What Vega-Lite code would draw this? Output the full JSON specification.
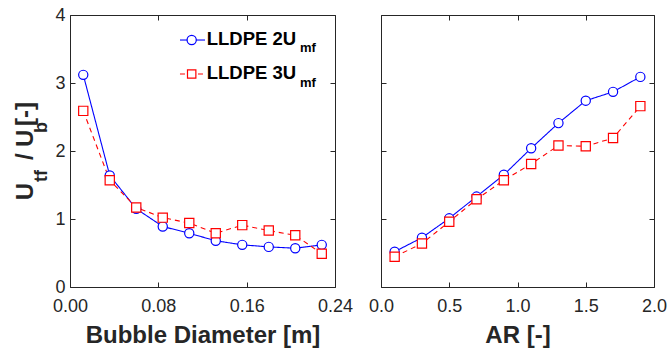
{
  "$schema": "https://vega.github.io/schema/vega-lite/v6.json",
  "padding": {"left": 13, "top": 5, "right": 5, "bottom": 0},
  "background": "white",
  "spacing": 13,
  "config": {
    "view": {"stroke": "#262626", "strokeWidth": 1},
    "axis": {
      "grid": false,
      "labelFont": "Liberation Sans",
      "labelFontSize": 18,
      "labelColor": "#262626",
      "labelFlush": false,
      "labelOverlap": false,
      "titleFont": "Liberation Sans",
      "titleFontSize": 24,
      "titleFontWeight": "bold",
      "titleColor": "#262626",
      "tickColor": "#262626",
      "domain": false
    },
    "text": {"font": "Liberation Sans", "fontWeight": "bold", "fill": "#000000"}
  },
  "datasets": {
    "diam": [
      {"x": 0.012, "y": 3.12, "series": "2Umf"},
      {"x": 0.036, "y": 1.64, "series": "2Umf"},
      {"x": 0.060, "y": 1.15, "series": "2Umf"},
      {"x": 0.084, "y": 0.89, "series": "2Umf"},
      {"x": 0.108, "y": 0.79, "series": "2Umf"},
      {"x": 0.132, "y": 0.68, "series": "2Umf"},
      {"x": 0.156, "y": 0.62, "series": "2Umf"},
      {"x": 0.180, "y": 0.59, "series": "2Umf"},
      {"x": 0.204, "y": 0.57, "series": "2Umf"},
      {"x": 0.228, "y": 0.62, "series": "2Umf"},
      {"x": 0.012, "y": 2.59, "series": "3Umf"},
      {"x": 0.036, "y": 1.57, "series": "3Umf"},
      {"x": 0.060, "y": 1.17, "series": "3Umf"},
      {"x": 0.084, "y": 1.02, "series": "3Umf"},
      {"x": 0.108, "y": 0.94, "series": "3Umf"},
      {"x": 0.132, "y": 0.79, "series": "3Umf"},
      {"x": 0.156, "y": 0.91, "series": "3Umf"},
      {"x": 0.180, "y": 0.83, "series": "3Umf"},
      {"x": 0.204, "y": 0.76, "series": "3Umf"},
      {"x": 0.228, "y": 0.49, "series": "3Umf"}
    ],
    "ar": [
      {"x": 0.1, "y": 0.52, "series": "2Umf"},
      {"x": 0.3, "y": 0.725, "series": "2Umf"},
      {"x": 0.5, "y": 1.01, "series": "2Umf"},
      {"x": 0.7, "y": 1.33, "series": "2Umf"},
      {"x": 0.9, "y": 1.65, "series": "2Umf"},
      {"x": 1.1, "y": 2.04, "series": "2Umf"},
      {"x": 1.3, "y": 2.41, "series": "2Umf"},
      {"x": 1.5, "y": 2.74, "series": "2Umf"},
      {"x": 1.7, "y": 2.87, "series": "2Umf"},
      {"x": 1.9, "y": 3.09, "series": "2Umf"},
      {"x": 0.1, "y": 0.445, "series": "3Umf"},
      {"x": 0.3, "y": 0.64, "series": "3Umf"},
      {"x": 0.5, "y": 0.96, "series": "3Umf"},
      {"x": 0.7, "y": 1.29, "series": "3Umf"},
      {"x": 0.9, "y": 1.57, "series": "3Umf"},
      {"x": 1.1, "y": 1.81, "series": "3Umf"},
      {"x": 1.3, "y": 2.08, "series": "3Umf"},
      {"x": 1.5, "y": 2.07, "series": "3Umf"},
      {"x": 1.7, "y": 2.19, "series": "3Umf"},
      {"x": 1.9, "y": 2.66, "series": "3Umf"}
    ]
  },
  "hconcat": [
    {
      "width": 265,
      "height": 272,
      "layer": [
        {
          "data": {"name": "diam"},
          "mark": {"type": "line", "strokeWidth": 1.1},
          "encoding": {
            "x": {"field": "x", "type": "quantitative", "scale": {"domain": [0, 0.24], "nice": false},
              "axis": {"orient": "bottom", "values": [0, 0.08, 0.16, 0.24], "format": ".2f", "title": "Bubble Diameter [m]", "tickSize": -5, "labelPadding": 15.5, "titlePadding": 8}},
            "y": {"field": "y", "type": "quantitative", "scale": {"domain": [0, 4], "nice": false},
              "axis": {"orient": "left", "values": [0, 1, 2, 3, 4], "format": "d", "title": null, "tickSize": -5, "labelPadding": 10}},
            "color": {"field": "series", "type": "nominal", "scale": {"domain": ["2Umf", "3Umf"], "range": ["#0000ff", "#ff0000"]}, "legend": null},
            "strokeDash": {"field": "series", "type": "nominal", "scale": {"domain": ["2Umf", "3Umf"], "range": [[1, 0], [5, 4]]}, "legend": null}
          }
        },
        {
          "data": {"name": "diam"},
          "mark": {"type": "point", "filled": false, "fill": "white", "fillOpacity": 1, "strokeWidth": 1.2, "size": 85},
          "encoding": {
            "x": {"field": "x", "type": "quantitative", "axis": {"orient": "top", "values": [0, 0.08, 0.16, 0.24], "labels": false, "title": null, "tickSize": -5}},
            "y": {"field": "y", "type": "quantitative", "axis": {"orient": "right", "values": [0, 1, 2, 3, 4], "labels": false, "title": null, "tickSize": -5}},
            "stroke": {"field": "series", "type": "nominal", "scale": {"domain": ["2Umf", "3Umf"], "range": ["#0000ff", "#ff0000"]}, "legend": null},
            "shape": {"field": "series", "type": "nominal", "scale": {"domain": ["2Umf", "3Umf"], "range": ["circle", "square"]}, "legend": null}
          }
        },
        {
          "data": {"values": [{}]},
          "mark": {"type": "rule", "stroke": "#0000ff", "strokeWidth": 1.1},
          "encoding": {"x": {"datum": 0.0996, "type": "quantitative", "axis": null}, "x2": {"datum": 0.1223}, "y": {"datum": 3.632, "type": "quantitative", "axis": null}}
        },
        {
          "data": {"values": [{}]},
          "mark": {"type": "rule", "stroke": "#ff0000", "strokeWidth": 1.1, "strokeDash": [5, 4]},
          "encoding": {"x": {"datum": 0.0996, "type": "quantitative", "axis": null}, "x2": {"datum": 0.1223}, "y": {"datum": 3.132, "type": "quantitative", "axis": null}}
        },
        {
          "data": {"values": [{}]},
          "mark": {"type": "point", "shape": "circle", "stroke": "#0000ff", "fill": "white", "fillOpacity": 1, "strokeWidth": 1.2, "size": 85},
          "encoding": {"x": {"datum": 0.1102, "type": "quantitative", "axis": null}, "y": {"datum": 3.632, "type": "quantitative", "axis": null}}
        },
        {
          "data": {"values": [{}]},
          "mark": {"type": "point", "shape": "square", "stroke": "#ff0000", "fill": "white", "fillOpacity": 1, "strokeWidth": 1.2, "size": 70},
          "encoding": {"x": {"datum": 0.1102, "type": "quantitative", "axis": null}, "y": {"datum": 3.132, "type": "quantitative", "axis": null}}
        },
        {
          "data": {"values": [{}]},
          "mark": {"type": "text", "text": "LLDPE 2U", "fontSize": 18.5, "align": "left", "baseline": "alphabetic"},
          "encoding": {"x": {"datum": 0.1238, "type": "quantitative", "axis": null}, "y": {"datum": 3.559, "type": "quantitative", "axis": null}}
        },
        {
          "data": {"values": [{}]},
          "mark": {"type": "text", "text": "mf", "fontSize": 13, "align": "left", "baseline": "alphabetic"},
          "encoding": {"x": {"datum": 0.2083, "type": "quantitative", "axis": null}, "y": {"datum": 3.456, "type": "quantitative", "axis": null}}
        },
        {
          "data": {"values": [{}]},
          "mark": {"type": "text", "text": "LLDPE 3U", "fontSize": 18.5, "align": "left", "baseline": "alphabetic"},
          "encoding": {"x": {"datum": 0.1238, "type": "quantitative", "axis": null}, "y": {"datum": 3.059, "type": "quantitative", "axis": null}}
        },
        {
          "data": {"values": [{}]},
          "mark": {"type": "text", "text": "mf", "fontSize": 13, "align": "left", "baseline": "alphabetic"},
          "encoding": {"x": {"datum": 0.2083, "type": "quantitative", "axis": null}, "y": {"datum": 2.946, "type": "quantitative", "axis": null}}
        },
        {
          "data": {"values": [{}]},
          "mark": {"type": "text", "text": "U", "fontSize": 24, "angle": 270, "align": "left", "baseline": "alphabetic", "fill": "#262626"},
          "encoding": {"x": {"datum": -0.0335, "type": "quantitative", "axis": null}, "y": {"datum": 1.275, "type": "quantitative", "axis": null}}
        },
        {
          "data": {"values": [{}]},
          "mark": {"type": "text", "text": "tf", "fontSize": 18, "angle": 270, "align": "left", "baseline": "alphabetic", "fill": "#262626"},
          "encoding": {"x": {"datum": -0.0208, "type": "quantitative", "axis": null}, "y": {"datum": 1.544, "type": "quantitative", "axis": null}}
        },
        {
          "data": {"values": [{}]},
          "mark": {"type": "text", "text": "/", "fontSize": 24, "angle": 270, "align": "left", "baseline": "alphabetic", "fill": "#262626"},
          "encoding": {"x": {"datum": -0.0335, "type": "quantitative", "axis": null}, "y": {"datum": 1.868, "type": "quantitative", "axis": null}}
        },
        {
          "data": {"values": [{}]},
          "mark": {"type": "text", "text": "U", "fontSize": 24, "angle": 270, "align": "left", "baseline": "alphabetic", "fill": "#262626"},
          "encoding": {"x": {"datum": -0.0335, "type": "quantitative", "axis": null}, "y": {"datum": 2.059, "type": "quantitative", "axis": null}}
        },
        {
          "data": {"values": [{}]},
          "mark": {"type": "text", "text": "b", "fontSize": 18, "angle": 270, "align": "left", "baseline": "alphabetic", "fill": "#262626"},
          "encoding": {"x": {"datum": -0.0208, "type": "quantitative", "axis": null}, "y": {"datum": 2.265, "type": "quantitative", "axis": null}}
        },
        {
          "data": {"values": [{}]},
          "mark": {"type": "text", "text": "[-]", "fontSize": 24, "angle": 270, "align": "left", "baseline": "alphabetic", "fill": "#262626"},
          "encoding": {"x": {"datum": -0.0335, "type": "quantitative", "axis": null}, "y": {"datum": 2.368, "type": "quantitative", "axis": null}}
        }
      ]
    },
    {
      "width": 273,
      "height": 272,
      "layer": [
        {
          "data": {"name": "ar"},
          "mark": {"type": "line", "strokeWidth": 1.1},
          "encoding": {
            "x": {"field": "x", "type": "quantitative", "scale": {"domain": [0, 2], "nice": false},
              "axis": {"orient": "bottom", "values": [0, 0.5, 1, 1.5, 2], "format": ".1f", "title": "AR [-]", "tickSize": -5, "labelPadding": 15.5, "titlePadding": 8}},
            "y": {"field": "y", "type": "quantitative", "scale": {"domain": [0, 4], "nice": false},
              "axis": {"orient": "left", "values": [0, 1, 2, 3, 4], "labels": false, "title": null, "tickSize": -5}},
            "color": {"field": "series", "type": "nominal", "scale": {"domain": ["2Umf", "3Umf"], "range": ["#0000ff", "#ff0000"]}, "legend": null},
            "strokeDash": {"field": "series", "type": "nominal", "scale": {"domain": ["2Umf", "3Umf"], "range": [[1, 0], [5, 4]]}, "legend": null}
          }
        },
        {
          "data": {"name": "ar"},
          "mark": {"type": "point", "filled": false, "fill": "white", "fillOpacity": 1, "strokeWidth": 1.2, "size": 85},
          "encoding": {
            "x": {"field": "x", "type": "quantitative", "axis": {"orient": "top", "values": [0, 0.5, 1, 1.5, 2], "labels": false, "title": null, "tickSize": -5}},
            "y": {"field": "y", "type": "quantitative", "axis": {"orient": "right", "values": [0, 1, 2, 3, 4], "labels": false, "title": null, "tickSize": -5}},
            "stroke": {"field": "series", "type": "nominal", "scale": {"domain": ["2Umf", "3Umf"], "range": ["#0000ff", "#ff0000"]}, "legend": null},
            "shape": {"field": "series", "type": "nominal", "scale": {"domain": ["2Umf", "3Umf"], "range": ["circle", "square"]}, "legend": null}
          }
        }
      ]
    }
  ]
}
